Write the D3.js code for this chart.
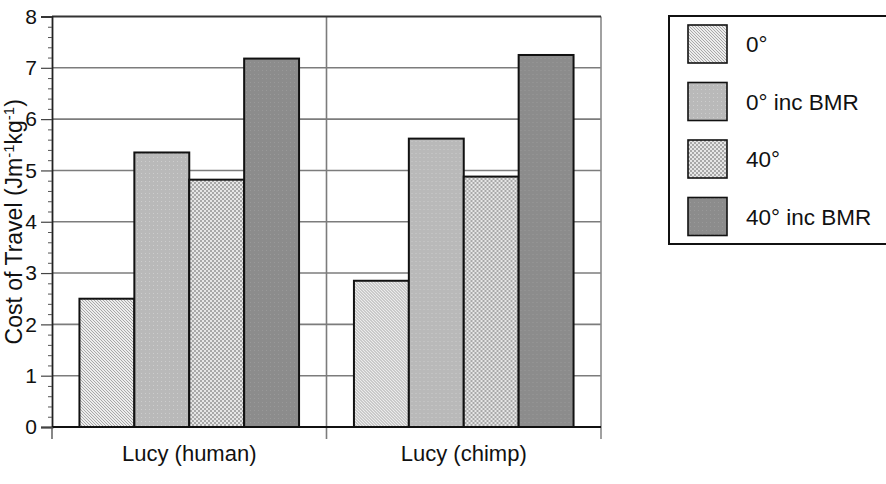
<!DOCTYPE html>
<html>
<head>
<meta charset="utf-8">
<script src="https://cdn.jsdelivr.net/npm/d3@7"></script>
<style>
  body { margin: 0; background: #fff; }
  svg { display: block; font-family: "Liberation Sans", Arial, Helvetica, sans-serif; }
</style>
</head>
<body>
<svg id="chart" width="886" height="484"></svg>
<script>
    "use strict";

    var categories = ["Lucy (human)", "Lucy (chimp)"]
    var series = ["0°", "0° inc BMR", "40°", "40° inc BMR"]
    var values0 = [2.5, 2.85]
    var values0Bmr = [5.35, 5.62]
    var values40 = [4.82, 4.88]
    var values40Bmr = [7.18, 7.25]
    var yTicks = [0, 1, 2, 3, 4, 5, 6, 7, 8]

    var seriesValues = [values0, values0Bmr, values40, values40Bmr]
    var fills = ["url(#p0)", "url(#p1)", "url(#p2)", "url(#p3)"]

    var plotLeft = 52, plotRight = 601, plotTop = 16.5, plotBottom = 427

    var svg = d3.select("#chart")
    var defs = svg.append("defs")

    // hatch patterns
    var p0 = defs.append("pattern").attr("id", "p0")
        .attr("patternUnits", "userSpaceOnUse").attr("width", 3).attr("height", 3)
    p0.append("rect").attr("width", 3).attr("height", 3).attr("fill", "#ececec")
    p0.append("path").attr("d", "M0,0 L3,3 M-1,2 L1,4 M2,-1 L4,1")
        .attr("stroke", "#a8a8a8").attr("stroke-width", 1)

    var p1 = defs.append("pattern").attr("id", "p1")
        .attr("patternUnits", "userSpaceOnUse").attr("width", 4).attr("height", 4)
    p1.append("rect").attr("width", 4).attr("height", 4).attr("fill", "#b9b9b9")
    p1.append("rect").attr("x", 1).attr("y", 1).attr("width", 1).attr("height", 1).attr("fill", "#cdcdcd")

    var p2 = defs.append("pattern").attr("id", "p2")
        .attr("patternUnits", "userSpaceOnUse").attr("width", 4).attr("height", 4)
    p2.append("rect").attr("width", 4).attr("height", 4).attr("fill", "#e6e6e6")
    p2.append("rect").attr("width", 2).attr("height", 2).attr("fill", "#a8a8a8")
    p2.append("rect").attr("x", 2).attr("y", 2).attr("width", 2).attr("height", 2).attr("fill", "#a8a8a8")

    var p3 = defs.append("pattern").attr("id", "p3")
        .attr("patternUnits", "userSpaceOnUse").attr("width", 4).attr("height", 4)
    p3.append("rect").attr("width", 4).attr("height", 4).attr("fill", "#8c8c8c")
    p3.append("rect").attr("x", 2).attr("y", 2).attr("width", 1).attr("height", 1).attr("fill", "#999")

    var x = d3.scaleBand().domain(categories).range([plotLeft, plotRight])
    var xSub = d3.scaleBand().domain(series).range([0, x.bandwidth()]).paddingOuter(0.5)
    var y = d3.scaleLinear().domain([0, 8]).range([plotBottom, plotTop])

    // grid
    svg.append("g").selectAll("line")
        .data(yTicks.filter(function(d) { return d > 0 && d < 8 }))
        .enter().append("line")
        .attr("x1", plotLeft).attr("x2", plotRight)
        .attr("y1", function(d) { return y(d) }).attr("y2", function(d) { return y(d) })
        .attr("stroke", "#7c7c7c").attr("stroke-width", 1.6)

    // divider + right edge
    svg.append("line").attr("x1", x(categories[1])).attr("x2", x(categories[1]))
        .attr("y1", plotTop).attr("y2", plotBottom + 12)
        .attr("stroke", "#7c7c7c").attr("stroke-width", 1.6)
    svg.append("line").attr("x1", plotRight).attr("x2", plotRight)
        .attr("y1", plotTop).attr("y2", plotBottom + 12)
        .attr("stroke", "#8a8a8a").attr("stroke-width", 1.6)
    svg.append("line").attr("x1", plotLeft).attr("x2", plotRight)
        .attr("y1", plotTop).attr("y2", plotTop)
        .attr("stroke", "#333").attr("stroke-width", 1.8)

    // bars
    var groups = svg.append("g").selectAll("g")
        .data(categories).enter().append("g")
        .attr("transform", function(d) { return "translate(" + x(d) + ",0)" })

    groups.selectAll("rect")
        .data(function(d, i) {
            return series.map(function(s, j) { return { s: s, v: seriesValues[j][i], j: j } })
        })
        .enter().append("rect")
        .attr("x", function(d) { return xSub(d.s) })
        .attr("width", xSub.bandwidth())
        .attr("y", function(d) { return y(d.v) })
        .attr("height", function(d) { return plotBottom - y(d.v) })
        .attr("fill", function(d) { return fills[d.j] })
        .attr("stroke", "#111").attr("stroke-width", 2)

    // y axis
    var yAxis = svg.append("g").attr("transform", "translate(" + plotLeft + ",0)")
        .call(d3.axisLeft(y).tickValues(yTicks).tickSize(11).tickPadding(4).tickFormat(d3.format("d")))
    yAxis.select(".domain").attr("stroke", "#222").attr("stroke-width", 1.8)
    yAxis.selectAll(".tick line").attr("stroke", "#444").attr("stroke-width", 1.2)
    yAxis.selectAll("text").attr("font-size", 21).attr("fill", "#111").attr("font-family", null)

    var minor = d3.range(0, 8.01, 0.2).filter(function(d) { return Math.abs(d - Math.round(d)) > 0.01 })
    var yMinor = svg.append("g").attr("transform", "translate(" + plotLeft + ",0)")
        .call(d3.axisLeft(y).tickValues(minor).tickSize(4).tickFormat(""))
    yMinor.select(".domain").remove()
    yMinor.selectAll(".tick line").attr("stroke", "#555").attr("stroke-width", 1)

    // x axis
    svg.append("line").attr("x1", plotLeft).attr("x2", plotRight)
        .attr("y1", plotBottom).attr("y2", plotBottom)
        .attr("stroke", "#111").attr("stroke-width", 2)
    svg.append("line").attr("x1", plotLeft).attr("x2", plotLeft)
        .attr("y1", plotBottom).attr("y2", plotBottom + 12)
        .attr("stroke", "#555").attr("stroke-width", 1.4)

    svg.append("g").selectAll("text").data(categories).enter().append("text")
        .attr("x", function(d) { return x(d) + x.bandwidth() / 2 })
        .attr("y", 461)
        .attr("text-anchor", "middle")
        .attr("font-size", 22).attr("fill", "#111")
        .text(function(d) { return d })

    // y title
    var title = svg.append("text")
        .attr("transform", "translate(22," + ((plotTop + plotBottom) / 2) + ") rotate(-90)")
        .attr("text-anchor", "middle")
        .attr("font-size", 23).attr("fill", "#111")
    title.append("tspan").text("Cost of Travel (Jm")
    title.append("tspan").attr("dy", -8).attr("font-size", 15).text("-1")
    title.append("tspan").attr("dy", 8).text("kg")
    title.append("tspan").attr("dy", -8).attr("font-size", 15).text("-1")
    title.append("tspan").attr("dy", 8).text(")")

    // legend
    var legend = svg.append("g")
    legend.append("rect").attr("x", 669).attr("y", 16).attr("width", 230).attr("height", 228)
        .attr("fill", "#fff").attr("stroke", "#111").attr("stroke-width", 2)

    var ly = d3.scalePoint().domain(series).range([44, 216.5])
    var items = legend.selectAll("g.item").data(series).enter().append("g").attr("class", "item")
    items.append("rect")
        .attr("x", 688).attr("width", 39)
        .attr("y", function(d) { return ly(d) - 19 }).attr("height", 38)
        .attr("fill", function(d, i) { return fills[i] })
        .attr("stroke", "#111").attr("stroke-width", 1.6)
    items.append("text")
        .attr("x", 746).attr("y", function(d) { return ly(d) + 8 })
        .attr("font-size", 22.5).attr("fill", "#111")
        .text(function(d) { return d })
</script>
</body>
</html>
